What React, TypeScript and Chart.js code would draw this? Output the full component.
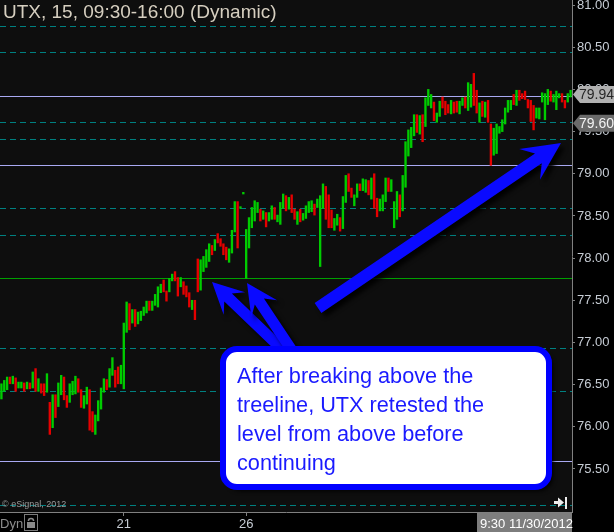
import React, { useEffect, useRef } from 'react';
import { Chart, registerables } from 'chart.js';
Chart.register(...registerables);

// ---- data (15-minute bars, UTX) ----
const barLows = [
  76.33, 76.42, 76.44, 76.51, 76.51, 76.42, 76.46, 76.46, 76.42, 76.45,
  76.45, 76.46, 76.42, 76.42, 76.40, 76.37, 76.41, 75.91, 75.99, 76.11,
  76.24, 76.38, 76.32, 76.23, 76.29, 76.38, 76.39, 76.41, 76.23, 76.22,
  76.27, 75.96, 75.94, 75.91, 76.07, 76.21, 76.41, 76.44, 76.47, 76.61,
  76.47, 76.51, 76.51, 76.45, 77.12, 77.15, 77.23, 77.19, 77.22, 77.26,
  77.32, 77.35, 77.38, 77.38, 77.44, 77.42, 77.59, 77.60, 77.49, 77.60,
  77.73, 77.73, 77.55, 77.66, 77.57, 77.54, 77.42, 77.39, 77.27, 77.60,
  77.62, 77.84, 77.89, 77.96, 78.04, 78.09, 78.18, 78.14, 78.04, 77.98,
  77.95, 78.06, 78.31, 78.12, 78.59, 78.76, 77.76, 78.12, 78.36, 78.44,
  78.54, 78.44, 78.46, 78.37, 78.44, 78.46, 78.46, 78.43, 78.40, 78.59,
  78.56, 78.58, 78.54, 78.46, 78.40, 78.43, 78.45, 78.47, 78.54, 78.55,
  78.51, 78.60, 77.90, 78.59, 78.46, 78.36, 78.36, 78.33, 78.39, 78.32,
  78.35, 78.66, 78.79, 78.72, 78.62, 78.72, 78.80, 78.80, 78.78, 78.75,
  78.70, 78.59, 78.49, 78.56, 78.56, 78.67, 78.79, 78.79, 78.36, 78.46,
  78.49, 78.56, 78.84, 79.21, 79.31, 79.45, 79.49, 79.47, 79.38, 79.56,
  79.81, 79.78, 79.63, 79.61, 79.68, 79.78, 79.70, 79.72, 79.71, 79.72,
  79.73, 79.71, 79.81, 79.78, 79.75, 79.79, 79.81, 79.72, 79.61, 79.68,
  79.67, 79.61, 79.10, 79.22, 79.24, 79.48, 79.50, 79.59, 79.73, 79.76,
  79.82, 79.81, 79.87, 79.89, 79.88, 79.78, 79.62, 79.52, 79.66, 79.65,
  79.85, 79.64, 79.82, 79.86, 79.85, 79.76, 79.90, 79.85, 79.78, 79.85, 79.91,
];

const barHighs = [
  76.51, 76.55, 76.59, 76.59, 76.60, 76.58, 76.53, 76.53, 76.52, 76.53,
  76.52, 76.65, 76.69, 76.57, 76.51, 76.51, 76.63, 76.29, 76.38, 76.38,
  76.52, 76.61, 76.59, 76.37, 76.51, 76.54, 76.60, 76.57, 76.44, 76.37,
  76.47, 76.44, 76.18, 76.14, 76.31, 76.46, 76.57, 76.56, 76.69, 76.82,
  76.67, 76.71, 76.73, 77.23, 77.48, 77.46, 77.39, 77.39, 77.36, 77.37,
  77.42, 77.49, 77.49, 77.49, 77.57, 77.66, 77.69, 77.74, 77.61, 77.76,
  77.81, 77.84, 77.77, 77.77, 77.72, 77.67, 77.59, 77.50, 77.50, 77.99,
  77.98, 78.02, 78.10, 78.17, 78.15, 78.22, 78.29, 78.23, 78.17, 78.13,
  78.11, 78.33, 78.67, 78.67, 78.61, 78.78, 78.34, 78.48, 78.60, 78.68,
  78.66, 78.58, 78.56, 78.54, 78.54, 78.62, 78.60, 78.51, 78.66, 78.76,
  78.74, 78.72, 78.75, 78.58, 78.55, 78.58, 78.53, 78.62, 78.67, 78.68,
  78.64, 78.70, 78.74, 78.88, 78.85, 78.75, 78.57, 78.47, 78.52, 78.48,
  78.73, 78.98, 79.00, 78.83, 78.75, 78.88, 78.88, 78.94, 78.93, 78.92,
  78.95, 79.00, 78.71, 78.70, 78.75, 78.95, 78.95, 78.93, 78.67, 78.79,
  78.75, 78.98, 79.38, 79.52, 79.55, 79.70, 79.70, 79.69, 79.70, 79.90,
  80.00, 79.94, 79.85, 79.72, 79.86, 79.91, 79.86, 79.82, 79.87, 79.85,
  79.86, 79.86, 79.90, 79.91, 80.08, 80.06, 80.19, 79.99, 79.84, 79.86,
  79.85, 79.87, 79.59, 79.54, 79.59, 79.56, 79.64, 79.78, 79.87, 79.87,
  79.94, 79.99, 79.99, 79.95, 79.98, 79.88, 79.87, 79.81, 79.78, 79.78,
  79.96, 79.95, 80.00, 79.98, 79.94, 79.98, 79.95, 79.95, 79.87, 79.95, 79.99,
];

// G = up bar, R = down bar
const barDirections = (
  'GGGRGRGGRG' + 'RGRGRRGRGR' + 'GGRRGGGRRG' + 'GRRGGGGRGG' + 'RRGGGRGRGG' +
  'GGRGGGGRRG' + 'GRRGRRRGRR' + 'GGGGRGRRRR' + 'GGGRGGGGGG' + 'GRGRGGRGGG' +
  'RGRRGRGGGG' + 'RGGGRRRGGR' + 'GGRRGGRGGR' + 'GRRGGGRGGG' + 'RGGGGGRGRG' +
  'GGRGGRRRGR' + 'RGGRGGRRGR' + 'GRRGGGGGGG' + 'RGRRRRRRGG' + 'GGGRGGGRRGG'
).split('');

const dayTickIndex = [43, 86];
const dayTickText = ['21', '26'];
const yTickValues = [75.5, 76, 76.5, 77, 77.5, 78, 78.5, 79, 79.5, 80, 80.5, 81];
const dashedLevels = [80.75, 80.44, 79.61, 79.41, 78.59, 78.27, 76.93, 76.42, 75.07];
const lavenderLevels = [79.92, 79.1, 75.59];
const greenLevels = [77.76];
const priceTags = [
  { value: 79.94, text: '79.94', bg: '#b0b0b0', fg: '#262626' },
  { value: 79.6, text: '79.60', bg: '#6a6a6a', fg: '#f2f2f2' },
];
const titleText = 'UTX, 15, 09:30-16:00 (Dynamic)';
const noteLines = ['After breaking above the', 'treeline, UTX retested the', 'level from above before', 'continuing'];
const dateBoxText = '9:30 11/30/2012';

const Y_MIN = 74.99;
const Y_MAX = 81.06;
const FONT = '"Liberation Sans", Arial, sans-serif';

function drawArrow(ctx: CanvasRenderingContext2D, x0: number, y0: number, x1: number, y1: number, sw: number, hl: number, hw: number) {
  const dx = x1 - x0, dy = y1 - y0;
  const len = Math.hypot(dx, dy);
  const ux = dx / len, uy = dy / len;
  const nx = -uy, ny = ux;
  const bx = x1 - ux * hl, by = y1 - uy * hl;
  const jx = x1 - ux * hl * 0.72, jy = y1 - uy * hl * 0.72;
  ctx.beginPath();
  ctx.moveTo(x0 + nx * sw / 2, y0 + ny * sw / 2);
  ctx.lineTo(jx + nx * sw / 2, jy + ny * sw / 2);
  ctx.lineTo(bx + nx * hw / 2, by + ny * hw / 2);
  ctx.lineTo(x1, y1);
  ctx.lineTo(bx - nx * hw / 2, by - ny * hw / 2);
  ctx.lineTo(jx - nx * sw / 2, jy - ny * sw / 2);
  ctx.lineTo(x0 - nx * sw / 2, y0 - ny * sw / 2);
  ctx.closePath();
  ctx.fill();
}

function roundRectPath(ctx: CanvasRenderingContext2D, x: number, y: number, w: number, h: number, r: number) {
  ctx.beginPath();
  ctx.moveTo(x + r, y);
  ctx.lineTo(x + w - r, y);
  ctx.arcTo(x + w, y, x + w, y + r, r);
  ctx.lineTo(x + w, y + h - r);
  ctx.arcTo(x + w, y + h, x + w - r, y + h, r);
  ctx.lineTo(x + r, y + h);
  ctx.arcTo(x, y + h, x, y + h - r, r);
  ctx.lineTo(x, y + r);
  ctx.arcTo(x, y, x + r, y, r);
  ctx.closePath();
}

const decorPlugin = {
  id: 'decor',
  beforeDraw(chart: any) {
    const { ctx, chartArea: a } = chart;
    ctx.save();
    ctx.fillStyle = '#000000';
    ctx.fillRect(0, 0, chart.width, chart.height);
    ctx.fillStyle = '#0e0e0e';
    ctx.fillRect(a.left, a.top, a.right - a.left, a.bottom - a.top);
    ctx.restore();
  },
  beforeDatasetsDraw(chart: any) {
    const { ctx, chartArea: a } = chart;
    const ys = chart.scales.y;
    ctx.save();
    ctx.lineWidth = 1;
    const hline = (v: number) => {
      const y = Math.round(ys.getPixelForValue(v)) + 0.5;
      ctx.beginPath();
      ctx.moveTo(a.left, y);
      ctx.lineTo(a.right, y);
      ctx.stroke();
    };
    ctx.strokeStyle = '#008080';
    ctx.setLineDash([6, 4]);
    dashedLevels.forEach(hline);
    ctx.setLineDash([]);
    ctx.strokeStyle = '#a9a9f2';
    lavenderLevels.forEach(hline);
    ctx.strokeStyle = '#00a000';
    greenLevels.forEach(hline);
    ctx.restore();
  },
  afterDraw(chart: any) {
    const { ctx, chartArea: a } = chart;
    const ys = chart.scales.y;
    ctx.save();

    // title
    ctx.fillStyle = '#d6cfc0';
    ctx.font = `19px ${FONT}`;
    ctx.textBaseline = 'alphabetic';
    ctx.textAlign = 'left';
    ctx.fillText(titleText, 3, 18);

    // price tags on the right axis
    priceTags.forEach((t) => {
      const y = ys.getPixelForValue(t.value);
      const x0 = a.right + 1;
      ctx.fillStyle = t.bg;
      ctx.beginPath();
      ctx.moveTo(x0, y);
      ctx.lineTo(x0 + 7, y - 8.5);
      ctx.lineTo(chart.width, y - 8.5);
      ctx.lineTo(chart.width, y + 8.5);
      ctx.lineTo(x0 + 7, y + 8.5);
      ctx.closePath();
      ctx.fill();
      ctx.fillStyle = t.fg;
      ctx.font = `14px ${FONT}`;
      ctx.textBaseline = 'middle';
      ctx.fillText(t.text, x0 + 6, y + 1);
    });

    // copyright + go-to-end icon
    ctx.fillStyle = '#9a9a9a';
    ctx.font = `9px ${FONT}`;
    ctx.textBaseline = 'alphabetic';
    ctx.fillText('\u00a9 eSignal, 2012', 2, 507);
    ctx.fillStyle = '#eeeeee';
    ctx.fillRect(554, 501, 5, 3);
    ctx.beginPath();
    ctx.moveTo(558, 497.5);
    ctx.lineTo(564, 502.5);
    ctx.lineTo(558, 507.5);
    ctx.closePath();
    ctx.fill();
    ctx.fillRect(565, 497, 2, 12);

    // bottom bar: Dyn, lock, date box
    ctx.fillStyle = '#8c8c8c';
    ctx.font = `13px ${FONT}`;
    ctx.fillText('Dyn', 0, 528);
    ctx.strokeStyle = '#7a7a7a';
    ctx.lineWidth = 1;
    ctx.strokeRect(24.5, 514.5, 13, 16);
    ctx.fillStyle = '#8a8a8a';
    ctx.fillRect(27, 522, 8, 6);
    ctx.beginPath();
    ctx.strokeStyle = '#8a8a8a';
    ctx.lineWidth = 1.5;
    ctx.arc(31, 521, 2.6, Math.PI, 0);
    ctx.stroke();

    ctx.fillStyle = '#7d7d7d';
    ctx.fillRect(477, 513, a.right - 477, 19);
    ctx.fillStyle = '#ffffff';
    ctx.font = `13px ${FONT}`;
    ctx.fillText(dateBoxText, 480, 528);

    // callout arrows
    ctx.shadowColor = 'rgba(0,0,0,0.9)';
    ctx.shadowBlur = 4;
    ctx.shadowOffsetX = 4;
    ctx.shadowOffsetY = 4;
    ctx.fillStyle = '#0a0aff';
    drawArrow(ctx, 285, 352, 212, 282, 11, 31, 31);
    drawArrow(ctx, 293, 352, 247, 283, 11, 31, 31);
    drawArrow(ctx, 318, 308, 561, 143, 12, 38, 37);

    // callout box
    roundRectPath(ctx, 223, 349, 326, 138, 14);
    ctx.fillStyle = '#ffffff';
    ctx.fill();
    ctx.shadowColor = 'rgba(0,0,0,0)';
    ctx.lineWidth = 6;
    ctx.strokeStyle = '#0000ff';
    ctx.stroke();
    ctx.fillStyle = '#1a1aff';
    ctx.font = `21.7px ${FONT}`;
    ctx.textBaseline = 'alphabetic';
    noteLines.forEach((l, i) => ctx.fillText(l, 237, 383 + i * 29));

    ctx.restore();
  },
};

export default function App() {
  const ref = useRef<HTMLCanvasElement | null>(null);
  useEffect(() => {
    if (!ref.current) return;
    const labels = barLows.map((_, i) => String(i));
    const chart = new Chart(ref.current, {
      type: 'bar',
      data: {
        labels,
        datasets: [
          {
            data: barLows.map((l, i) => [l, barHighs[i]]) as any,
            backgroundColor: barDirections.map((d) => (d === 'G' ? '#00cc00' : '#e60000')),
            borderWidth: 0,
            barThickness: 1.7,
            categoryPercentage: 1,
            barPercentage: 1,
          },
        ],
      },
      options: {
        animation: false,
        responsive: false,
        maintainAspectRatio: false,
        layout: { padding: 0 },
        plugins: { legend: { display: false }, tooltip: { enabled: false }, title: { display: false } },
        scales: {
          x: {
            type: 'category',
            offset: true,
            grid: {
              display: true,
              drawOnChartArea: false,
              offset: false,
              tickLength: 4,
              color: (c: any) => (dayTickIndex.includes(c.index) ? '#808080' : 'rgba(0,0,0,0)'),
            },
            border: { display: true, color: '#808080' },
            ticks: {
              autoSkip: false,
              maxRotation: 0,
              minRotation: 0,
              padding: 1,
              color: '#c6ccd4',
              font: { family: FONT, size: 13 },
              callback: (_v: any, i: number) => {
                const k = dayTickIndex.indexOf(i);
                return k >= 0 ? dayTickText[k] : '';
              },
            },
            afterFit: (s: any) => {
              s.height = 20;
              s.paddingLeft = 0;
              s.paddingRight = 0;
            },
          },
          y: {
            position: 'right',
            min: Y_MIN,
            max: Y_MAX,
            afterBuildTicks: (s: any) => {
              s.ticks = yTickValues.map((v) => ({ value: v }));
            },
            grid: { drawOnChartArea: false, tickLength: 3, color: '#808080' },
            border: { display: true, color: '#808080' },
            ticks: {
              padding: 2,
              color: '#c6ccd4',
              font: { family: FONT, size: 13 },
              callback: (v: any) => Number(v).toFixed(2),
            },
            afterFit: (s: any) => {
              s.width = 42;
              s.paddingTop = 0;
              s.paddingBottom = 0;
            },
          },
        },
      } as any,
      plugins: [decorPlugin],
    });
    return () => chart.destroy();
  }, []);
  return (
    <div style={{ position: 'fixed', left: 0, top: 0, width: 614, height: 532, background: '#000' }}>
      <canvas ref={ref} width={614} height={532} style={{ display: 'block', width: 614, height: 532 }} />
    </div>
  );
}
